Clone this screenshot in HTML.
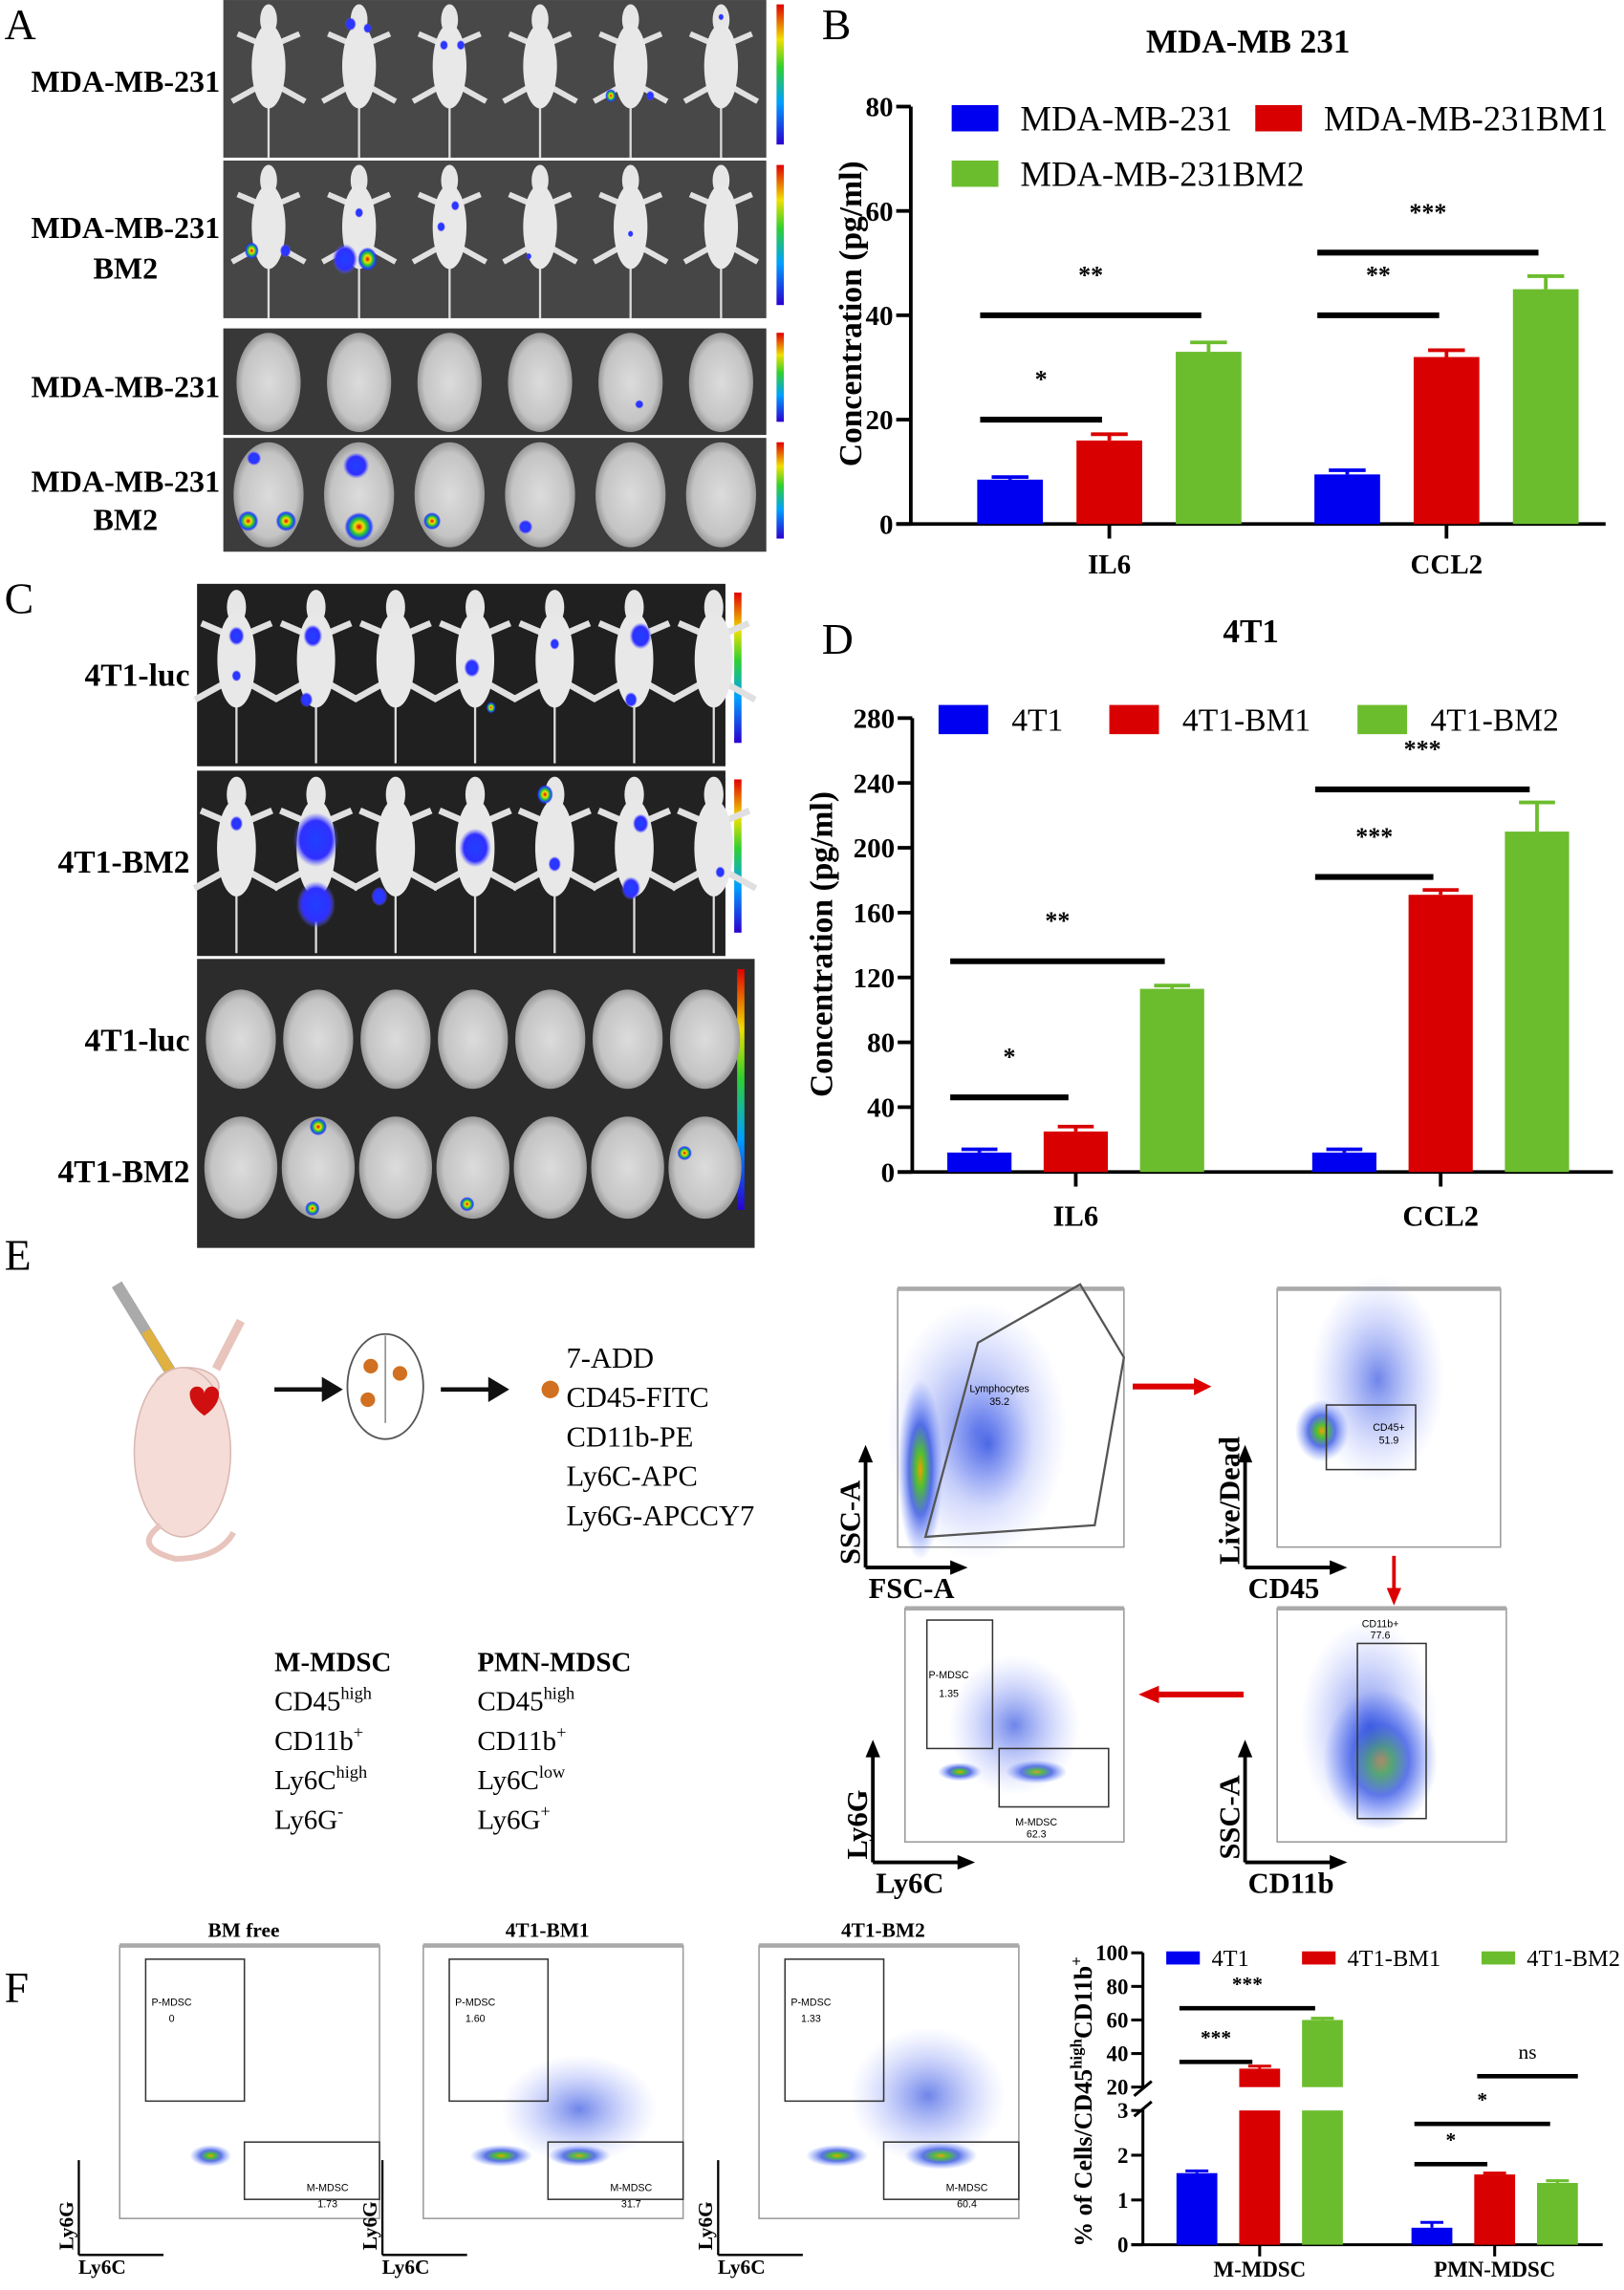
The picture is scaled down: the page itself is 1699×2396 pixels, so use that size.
<!DOCTYPE html>
<html><head><meta charset="utf-8">
<style>
html,body{margin:0;padding:0;background:#fff;}
svg{display:block;font-family:"Liberation Serif",serif;}
.b{font-weight:bold;}
</style></head>
<body>
<svg id="fig" width="1699" height="2396" viewBox="0 0 1112.6 1569" xmlns="http://www.w3.org/2000/svg">
<defs>
<linearGradient id="rainbow" x1="0" y1="1" x2="0" y2="0">
<stop offset="0" stop-color="#2a00d0"/><stop offset="0.3" stop-color="#00a0ff"/><stop offset="0.55" stop-color="#30d030"/><stop offset="0.75" stop-color="#f0e000"/><stop offset="1" stop-color="#e00000"/>
</linearGradient>
<radialGradient id="hot"><stop offset="0" stop-color="#e00000"/><stop offset="0.3" stop-color="#f0e000"/><stop offset="0.55" stop-color="#20c040"/><stop offset="0.8" stop-color="#2040ff"/><stop offset="1" stop-color="#2020ff" stop-opacity="0"/></radialGradient>
<radialGradient id="blue"><stop offset="0" stop-color="#2040ff"/><stop offset="0.7" stop-color="#3030ff"/><stop offset="1" stop-color="#6060ff" stop-opacity="0"/></radialGradient>
<radialGradient id="flow"><stop offset="0" stop-color="#f0a000"/><stop offset="0.2" stop-color="#50c030"/><stop offset="0.5" stop-color="#3050e0" stop-opacity="0.8"/><stop offset="1" stop-color="#6080ff" stop-opacity="0"/></radialGradient>
<radialGradient id="flowb"><stop offset="0" stop-color="#3050e0" stop-opacity="0.7"/><stop offset="1" stop-color="#90a0ff" stop-opacity="0"/></radialGradient>
<radialGradient id="brain"><stop offset="0" stop-color="#dcdcdc"/><stop offset="0.8" stop-color="#c4c4c4"/><stop offset="1" stop-color="#999"/></radialGradient>
</defs>
<g id="imgs"></g>
<g id="charts"></g>
<g id="flowg"></g>
<g id="texts">
<text x="3" y="27" font-size="30">A</text>
<text x="563" y="27" font-size="30">B</text>
<text x="3" y="420" font-size="30">C</text>
<text x="563" y="448" font-size="30">D</text>
<text x="3" y="870" font-size="30">E</text>
<text x="3" y="1372" font-size="30">F</text>
<g class="b" font-size="21" text-anchor="middle">
<text x="86" y="63">MDA-MB-231</text>
<text x="86" y="163">MDA-MB-231</text><text x="86" y="191">BM2</text>
<text x="86" y="272">MDA-MB-231</text>
<text x="86" y="337">MDA-MB-231</text><text x="86" y="363">BM2</text>
</g>
<g class="b" font-size="22" text-anchor="end">
<text x="130" y="470">4T1-luc</text>
<text x="130" y="598">4T1-BM2</text>
<text x="130" y="720">4T1-luc</text>
<text x="130" y="810">4T1-BM2</text>
</g>
<g font-size="20">
<text x="388" y="937">7-ADD</text>
<text x="388" y="964">CD45-FITC</text>
<text x="388" y="991">CD11b-PE</text>
<text x="388" y="1018">Ly6C-APC</text>
<text x="388" y="1045">Ly6G-APCCY7</text>
</g>
<g font-size="19">
<text x="188" y="1145" class="b">M-MDSC</text>
<text x="188" y="1172">CD45<tspan font-size="12" dy="-8">high</tspan></text>
<text x="188" y="1199">CD11b<tspan font-size="12" dy="-8">+</tspan></text>
<text x="188" y="1226">Ly6C<tspan font-size="12" dy="-8">high</tspan></text>
<text x="188" y="1253">Ly6G<tspan font-size="12" dy="-8">-</tspan></text>
<text x="327" y="1145" class="b">PMN-MDSC</text>
<text x="327" y="1172">CD45<tspan font-size="12" dy="-8">high</tspan></text>
<text x="327" y="1199">CD11b<tspan font-size="12" dy="-8">+</tspan></text>
<text x="327" y="1226">Ly6C<tspan font-size="12" dy="-8">low</tspan></text>
<text x="327" y="1253">Ly6G<tspan font-size="12" dy="-8">+</tspan></text>
</g>
</g>
<g>
<g>
<line x1="80" y1="880" x2="120" y2="945" stroke="#aaa" stroke-width="8"/>
<line x1="100" y1="912" x2="120" y2="945" stroke="#e0b040" stroke-width="7"/>
<ellipse cx="128" cy="950" rx="22" ry="13" fill="#f5dcd6" stroke="#d8b8b0"/>
<ellipse cx="125" cy="995" rx="33" ry="58" fill="#f5dcd6" stroke="#d8b8b0"/>
<path d="M148 938 L165 905" stroke="#e8c4bc" stroke-width="6"/>
<path d="M110 1045 Q90 1060 120 1068 Q150 1068 160 1050" stroke="#e8c4bc" stroke-width="4" fill="none"/>
<path d="M130 955 a5 5 0 0 1 10 0 a5 5 0 0 1 10 0 q0 8 -10 15 q-10 -7 -10 -15z" fill="#d01010"/>
</g>
<g stroke="#111" stroke-width="3" fill="#111">
<line x1="188" y1="952" x2="222" y2="952"/><path d="M222 946 L232 952 L222 958z"/>
<line x1="302" y1="952" x2="336" y2="952"/><path d="M336 946 L346 952 L336 958z"/>
</g>
<g>
<ellipse cx="264" cy="950" rx="26" ry="36" fill="#fff" stroke="#555" stroke-width="1.2"/>
<line x1="264" y1="915" x2="264" y2="975" stroke="#888"/>
<circle cx="254" cy="936" r="5" fill="#d07020"/><circle cx="274" cy="941" r="5" fill="#d07020"/><circle cx="252" cy="959" r="5" fill="#d07020"/>
</g>
<circle cx="377" cy="952" r="6" fill="#d07020"/>
</g>
<script>
// ===== Chart data =====
const catsB = ['IL6','CCL2'];
const seriesNamesB = ['MDA-MB-231','MDA-MB-231BM1','MDA-MB-231BM2'];
const valsB_s1 = [8.5, 9.5];
const valsB_s2 = [16, 32];
const valsB_s3 = [33, 45];
const errB_s1 = [0.5, 0.8];
const errB_s2 = [1.2, 1.3];
const errB_s3 = [1.8, 2.5];
const ticksB = [0,20,40,60,80];
const sigB = [[0,20,0,1,'*'],[0,40,0,2,'**'],[1,40,0,1,'**'],[1,52,0,2,'***']];

const catsD = ['IL6','CCL2'];
const seriesNamesD = ['4T1','4T1-BM1','4T1-BM2'];
const valsD_s1 = [12, 12];
const valsD_s2 = [25, 171];
const valsD_s3 = [113, 210];
const errD_s1 = [2, 2];
const errD_s2 = [3, 3];
const errD_s3 = [2, 18];
const ticksD = [0,40,80,120,160,200,240,280];
const sigD = [[0,46,0,1,'*'],[0,130,0,2,'**'],[1,182,0,1,'***'],[1,236,0,2,'***']];

const catsF = ['M-MDSC','PMN-MDSC'];
const seriesNamesF = ['4T1','4T1-BM1','4T1-BM2'];
const valsF_s1 = [1.6, 0.38];
const valsF_s2 = [31, 1.57];
const valsF_s3 = [60, 1.38];
const errF_s1 = [0.05, 0.12];
const errF_s2 = [1.5, 0.03];
const errF_s3 = [1, 0.05];
const ticksF_low = [0,1,2,3];
const ticksF_high = [20,40,60,80,100];
const sigF = [[0,35,0,1,'***'],[0,67,0,2,'***'],[1,1.8,0,1,'*'],[1,2.7,0,2,'*'],[1,26.5,1,2,'ns']];

const COLORS = ['#0000f0','#d80000','#6cbd2e'];
const NS='http://www.w3.org/2000/svg';
function mk(tag, attrs, parent){const e=document.createElementNS(NS,tag);for(const k in attrs)e.setAttribute(k,attrs[k]);parent.appendChild(e);return e;}

const charts=document.getElementById('charts');

function drawChart(o){
  const g=mk('g',{},charts);
  
  
  const y=o.y;
  if(o.title){const t=mk('text',{x:o.titleX,y:o.titleY,'text-anchor':'middle','font-size':o.titleSize,'font-weight':'bold'},g);t.textContent=o.title;
    
    }
  const ya=mk('line',{x1:o.ax,y1:o.axTop,x2:o.ax,y2:o.y0,stroke:'#000','stroke-width':o.lw},g);
  
  
  const xa=mk('line',{x1:o.ax-o.tick,y1:o.y0,x2:o.axEnd,y2:o.y0,stroke:'#000','stroke-width':o.lw},g);
  
  
  o.ticks.forEach(v=>{
    const yy=y(v);
    mk('line',{x1:o.ax-o.tick,y1:yy,x2:o.ax,y2:yy,stroke:'#000','stroke-width':o.lw},g);
    const t=mk('text',{x:o.ax-o.tick-2,y:yy+o.tickSize*0.35,'text-anchor':'end','font-size':o.tickSize,'font-weight':'bold'},g);
    t.textContent=v;
    
    
  });
  o.cats.forEach((c,i)=>{
    const cx=o.c0+i*o.cstep;
    mk('line',{x1:cx,y1:o.y0,x2:cx,y2:o.y0+o.tick,stroke:'#000','stroke-width':o.lw},g);
    const t=mk('text',{x:cx,y:o.catY,'text-anchor':'middle','font-size':o.catSize,'font-weight':'bold'},g);
    t.textContent=c;
    
    
  });
  o.vals.forEach((arr,s)=>{
    arr.forEach((v,i)=>{
      const cx=o.c0+i*o.cstep+(s-1)*o.off;
      const x=cx-o.bw/2;
      const segs=o.segs?o.segs(v):[[y(v),o.y0]];
      segs.forEach(sg=>{
        const r=mk('rect',{x:x,y:sg[0],width:o.bw,height:Math.max(0,sg[1]-sg[0]),fill:COLORS[s]},g);
        
        
      });
      const e=o.errs[s][i];
      const ey=y(v+e);
      mk('line',{x1:cx,y1:y(v),x2:cx,y2:ey,stroke:COLORS[s],'stroke-width':o.lw},g);
      mk('line',{x1:cx-o.bw*0.28,y1:ey,x2:cx+o.bw*0.28,y2:ey,stroke:COLORS[s],'stroke-width':o.lw},g);
    });
  });
  o.sig.forEach(sg=>{
    const base=o.c0+sg[0]*o.cstep;
    const x1=base+(sg[2]-1)*o.off-o.bw/2+2;
    const x2=base+(sg[3]-1)*o.off-(sg[2]===0?5:-o.bw/2);
    const yy=y(sg[1]);
    const l=mk('line',{x1:x1,y1:yy,x2:x2,y2:yy,stroke:'#000','stroke-width':o.sigW},g);
    
    
    const t=mk('text',{x:(x1+x2)/2,y:yy-o.sigGap,'text-anchor':'middle','font-size':o.sigSize,'font-weight':sg[4]==='ns'?'normal':'bold'},g);
    t.textContent=sg[4];
    
    
  });
  o.legend.forEach((L,s)=>{
    const r=mk('rect',{x:L[0],y:L[1],width:o.lgW,height:o.lgH,fill:COLORS[s]},g);
    
    
    const t=mk('text',{x:L[0]+o.lgW+o.lgGap,y:L[1]+o.lgH*0.5+o.lgSize*0.35,'font-size':o.lgSize},g);
    t.textContent=o.snames[s];
    
    
  });
  const yt=mk('text',{x:0,y:0,'text-anchor':'middle','font-size':o.ytSize,'font-weight':'bold',transform:`translate(${o.ytX},${o.ytY}) rotate(-90)`},g);
  if(o.ytParts){o.ytParts.forEach(p=>{const ts=mk('tspan',p[1]?{'font-size':11,dy:p[1]}:{},yt);if(p[2])ts.setAttribute('dy',p[2]);ts.textContent=p[0];});}
  else yt.textContent=o.yt;
  
  
  return g;
}

// Chart B
(function(){
  const y0=359, yT=73, max=80;
  drawChart({name:'chart-b-mda-mb-231',y:v=>y0-(v/max)*(y0-yT),ax:624,axTop:73,y0:y0,axEnd:1100,tick:10,lw:2.5,
    ticks:ticksB,tickSize:19,cats:catsB,c0:760,cstep:231,catY:393,catSize:19,off:68,bw:45,
    vals:[valsB_s1,valsB_s2,valsB_s3],errs:[errB_s1,errB_s2,errB_s3],snames:seriesNamesB,
    sig:sigB,sigW:4,sigGap:22,sigSize:17,
    legend:[[652,72],[860,72],[652,110]],lgW:32,lgH:18,lgGap:15,lgSize:24,
    title:'MDA-MB 231',titleX:855,titleY:36,titleSize:23,yt:'Concentration (pg/ml)',ytX:590,ytY:215,ytSize:22});
})();
// Chart D
(function(){
  const y0=803, yT=492, max=280;
  drawChart({name:'chart-d-4t1',y:v=>y0-(v/max)*(y0-yT),ax:625,axTop:492,y0:y0,axEnd:1105,tick:10,lw:2.5,
    ticks:ticksD,tickSize:19,cats:catsD,c0:737,cstep:250,catY:840,catSize:20,off:66,bw:44,
    vals:[valsD_s1,valsD_s2,valsD_s3],errs:[errD_s1,errD_s2,errD_s3],snames:seriesNamesD,
    sig:sigD,sigW:4,sigGap:22,sigSize:17,
    legend:[[643,483],[760,483],[930,483]],lgW:34,lgH:20,lgGap:16,lgSize:22,
    title:'4T1',titleX:857,titleY:440,titleSize:23,yt:'Concentration (pg/ml)',ytX:570,ytY:647,ytSize:22});
})();
// Chart F (broken axis)
(function(){
  const y0=1538, y3=1446, yb=1430, yT=1338;
  const y=v=> v<=3 ? y0-v*(y0-y3)/3 : (v<20 ? y3-(v-3)*((y3-yb)/17) : yb-(v-20)*(yb-yT)/80);
  const g=drawChart({name:'chart-f-mdsc',y:y,ax:783,axTop:1338,y0:y0,axEnd:1098,tick:8,lw:2,
    ticks:ticksF_low.concat(ticksF_high),tickSize:15,cats:catsF,c0:863,cstep:161,catY:1560,catSize:15,off:43,bw:28,
    segs:v=> v<=3?[[y(v),y0]]:[[y(v),yb],[y3,y0]],
    vals:[valsF_s1,valsF_s2,valsF_s3],errs:[errF_s1,errF_s2,errF_s3],snames:seriesNamesF,
    sig:sigF,sigW:3,sigGap:12,sigSize:14,
    legend:[[799,1337],[892,1337],[1015,1337]],lgW:23,lgH:9,lgGap:8,lgSize:16,
    ytX:748,ytY:1440,ytSize:17,ytParts:[['% of Cells/CD45'],['high',-7],['CD11b',null,7],['+',-7]]});
  const br=mk('rect',{x:778,y:yb+1,width:10,height:y3-yb-2,fill:'#fff'},g);
  
  
  mk('line',{x1:777,y1:yb+6,x2:789,y2:yb-4,stroke:'#000','stroke-width':2},g);
  mk('line',{x1:777,y1:y3+4,x2:789,y2:y3-6,stroke:'#000','stroke-width':2},g);
})();

// ===== Imaging panels (A & C) =====
const imgs=document.getElementById('imgs');
function colorbar(x,y,h){mk('rect',{x:x,y:y,width:5,height:h,fill:'url(#rainbow)'},imgs);}
function mouse(cx,top,h,spots){
  const g=mk('g',{},imgs);
  
  
  const s=h/110;
  mk('line',{x1:cx,y1:top+70*s,x2:cx,y2:top+h,stroke:'#ddd','stroke-width':1.5},g);
  mk('path',{d:`M${cx-22*s} ${top+22*s} L${cx-8*s} ${top+28*s} M${cx+22*s} ${top+22*s} L${cx+8*s} ${top+28*s} M${cx-26*s} ${top+70*s} L${cx-8*s} ${top+60*s} M${cx+26*s} ${top+70*s} L${cx+8*s} ${top+60*s}`,stroke:'#e0e0e0','stroke-width':4*s},g);
  mk('ellipse',{cx:cx,cy:top+12*s,rx:6*s,ry:11*s,fill:'#e6e6e6'},g);
  mk('ellipse',{cx:cx,cy:top+45*s,rx:12*s,ry:30*s,fill:'#e8e8e8'},g);
  spots.forEach(p=>mk('ellipse',{cx:cx+p[0]*s,cy:top+p[1]*s,rx:p[2]*s,ry:p[2]*s*1.2,fill:p[3]?'url(#hot)':'url(#blue)'},g));
}
function brain(cx,cy,rx,ry,spots){
  const g=mk('g',{},imgs);
  
  
  mk('ellipse',{cx:cx,cy:cy,rx:rx,ry:ry,fill:'url(#brain)'},g);
  spots.forEach(p=>mk('ellipse',{cx:cx+p[0],cy:cy+p[1],rx:p[2],ry:p[2],fill:p[3]?'url(#hot)':'url(#blue)'},g));
}
[[0,108,'#484848'],[110,108,'#464646'],[225,73,'#383838'],[300,78,'#3c3c3c']].forEach(r=>{
  const b=mk('rect',{x:153,y:r[0],width:372,height:r[1],fill:r[2]},imgs);
  
  
  colorbar(532,r[0]+3,r[1]-12);
});
const spA1=[[],[[-6,15,4],[6,18,3]],[[-4,30,3],[8,30,3]],[],[[-14,66,4,1],[14,66,3]],[[0,10,2]]];
const spA2=[[[-12,62,5,1],[12,62,4]],[[-10,68,9],[6,68,7,1],[0,35,3]],[[-6,45,3],[4,30,3]],[[-8,66,2]],[[0,50,2]],[]];
for(let i=0;i<6;i++){const cx=153+31+i*62;mouse(cx,2,106,spA1[i]);mouse(cx,112,106,spA2[i]);
  brain(cx,262,22,34,i===4?[[6,15,3]]:[]);
  brain(cx,339,24,36,i===0?[[-14,18,7,1],[12,18,7,1],[-10,-25,5]]:i===1?[[0,22,10,1],[-2,-20,9]]:i===2?[[-12,18,6,1]]:i===3?[[-10,22,5]]:[]);}
[[400,125,'#202020'],[528,127,'#222']].forEach(r=>{
  const b=mk('rect',{x:135,y:r[0],width:362,height:r[1],fill:r[2]},imgs);
  
  
  colorbar(503,r[0]+6,r[1]-22);
});
{const b=mk('rect',{x:135,y:657,width:382,height:198,fill:'#2c2c2c'},imgs);
 
 
 colorbar(505,664,165);}
const spC1=[[[0,30,5],[0,55,3]],[[-2,30,6],[-6,70,4]],[],[[-2,50,5],[10,75,3,1]],[[0,35,3]],[[4,30,7],[-2,70,4]],[]];
const spC2=[[[0,30,4]],[[0,40,14],[0,80,12]],[[-10,75,5]],[[0,45,10]],[[-6,12,5,1],[0,55,4]],[[4,30,5],[-2,70,6]],[[4,60,3]]];
for(let i=0;i<7;i++){const cx=162+i*54.5;mouse(cx,403,120,spC1[i]);mouse(cx,531,122,spC2[i]);
  const bx=165+i*53;
  brain(bx,712,24,34,[]);
  brain(bx,800,25,35,i===1?[[0,-28,6,1],[-4,28,5,1]]:i===3?[[-4,25,5,1]]:i===6?[[-14,-10,5,1]]:[]);}

// ===== Flow cytometry plots =====
const fg=document.getElementById('flowg');
function flowPlot(name,x,y,w,h,blobs,gates,yl,xl,big){
  const g=mk('g',{},fg);
  
  
  mk('rect',{x:x,y:y,width:w,height:h,fill:'#fff',stroke:'#999','stroke-width':1},g);
  mk('line',{x1:x,y1:y,x2:x+w,y2:y,stroke:'#aaa','stroke-width':3},g);
  blobs.forEach(b=>mk('ellipse',{cx:x+b[0]*w,cy:y+b[1]*h,rx:b[2]*w,ry:b[3]*h,fill:b[4]?'url(#flow)':'url(#flowb)'},g));
  gates.forEach(q=>{
    if(q.length===4){mk('rect',{x:x+q[0]*w,y:y+q[1]*h,width:q[2]*w,height:q[3]*h,fill:'none',stroke:'#333','stroke-width':1},g);}
    else {const t=mk('text',{x:x+q[0]*w,y:y+q[1]*h,'font-size':7,'font-family':'Liberation Sans, sans-serif','text-anchor':'middle'},g);t.textContent=q[2];}
  });
  if(big){
    const ax=x-22, ay=y+h+14;
    mk('path',{d:`M${ax} ${ay} L${ax} ${y+h-60} M${ax} ${ay} L${ax+60} ${ay}`,stroke:'#000','stroke-width':2.5,fill:'none'},g);
    mk('path',{d:`M${ax-5} ${y+h-58} L${ax} ${y+h-70} L${ax+5} ${y+h-58}z M${ax+58} ${ay-5} L${ax+70} ${ay} L${ax+58} ${ay+5}z`,fill:'#000'},g);
    const t1=mk('text',{x:0,y:0,'font-size':20,'font-weight':'bold',transform:`translate(${ax-4},${ay-2}) rotate(-90)`},g);t1.textContent=yl;
    const t2=mk('text',{x:ax+2,y:ay+21,'font-size':20,'font-weight':'bold'},g);t2.textContent=xl;
  } else {
    const t1=mk('text',{x:0,y:0,'font-size':14,'font-weight':'bold','text-anchor':'middle',transform:`translate(${x-32},${y+h+5}) rotate(-90)`},g);t1.textContent=yl;
    const t2=mk('text',{x:x-12,y:y+h+38,'font-size':14,'font-weight':'bold','text-anchor':'middle'},g);t2.textContent=xl;
    mk('path',{d:`M${x-28} ${y+h+25} L${x-28} ${y+h-40} M${x-28} ${y+h+25} L${x+30} ${y+h+25}`,stroke:'#000','stroke-width':1.5,fill:'none'},g);
  }
}
flowPlot('flow-fsc-ssc',615,883,155,177,[[0.35,0.55,0.4,0.5,0],[0.1,0.7,0.1,0.35,1],[0.4,0.6,0.2,0.25,0]],[[0.45,0.4,'Lymphocytes'],[0.45,0.45,'35.2']],'SSC-A','FSC-A',true);
mk('path',{d:'M634 1053 L670 920 L740 880 L770 930 L750 1045 Z',fill:'none',stroke:'#555','stroke-width':1.5},fg);
flowPlot('flow-cd45',875,883,153,177,[[0.2,0.55,0.12,0.12,1],[0.45,0.35,0.3,0.4,0]],[[0.22,0.45,0.4,0.25],[0.5,0.55,'CD45+'],[0.5,0.6,'51.9']],'Live/Dead','CD45',true);
flowPlot('flow-cd11b',875,1102,157,160,[[0.45,0.65,0.25,0.3,1],[0.4,0.5,0.3,0.45,0]],[[0.35,0.15,0.3,0.75],[0.45,0.08,'CD11b+'],[0.45,0.13,'77.6']],'SSC-A','CD11b',true);
flowPlot('flow-ly6g-ly6c',620,1102,150,160,[[0.25,0.7,0.1,0.04,1],[0.6,0.7,0.14,0.05,1],[0.5,0.5,0.3,0.3,0]],[[0.1,0.05,0.3,0.55],[0.43,0.6,0.5,0.25],[0.2,0.3,'P-MDSC'],[0.2,0.38,'1.35'],[0.6,0.93,'M-MDSC'],[0.6,0.98,'62.3']],'Ly6G','Ly6C',true);
mk('path',{d:'M776 950 L820 950',stroke:'#d00','stroke-width':4},fg);mk('path',{d:'M818 944 L830 950 L818 956z',fill:'#d00'},fg);
mk('path',{d:'M955 1066 L955 1090',stroke:'#d00','stroke-width':2.5},fg);mk('path',{d:'M950 1088 L955 1100 L960 1088z',fill:'#d00'},fg);
mk('path',{d:'M852 1161 L792 1161',stroke:'#d00','stroke-width':4},fg);mk('path',{d:'M794 1155 L780 1161 L794 1167z',fill:'#d00'},fg);
[['BM free',82,[[0.35,0.77,0.08,0.04,1]],'0','1.73'],['4T1-BM1',290,[[0.3,0.77,0.12,0.04,1],[0.6,0.77,0.12,0.04,1],[0.6,0.6,0.3,0.2,0]],'1.60','31.7'],['4T1-BM2',520,[[0.3,0.77,0.12,0.04,1],[0.7,0.77,0.14,0.05,1],[0.65,0.55,0.3,0.25,0]],'1.33','60.4']].forEach((p,i)=>{
  flowPlot('flow-f-'+i,p[1],1333,178,187,p[2],[[0.1,0.05,0.38,0.52],[0.48,0.72,0.52,0.21],[0.2,0.22,'P-MDSC'],[0.2,0.28,p[3]],[0.8,0.9,'M-MDSC'],[0.8,0.96,p[4]]],'Ly6G','Ly6C',false);
  const t=mk('text',{x:p[1]+85,y:1327,'text-anchor':'middle','font-size':14,'font-weight':'bold'},fg);t.textContent=p[0];
  
  
});
</script>
</svg>
</body></html>
